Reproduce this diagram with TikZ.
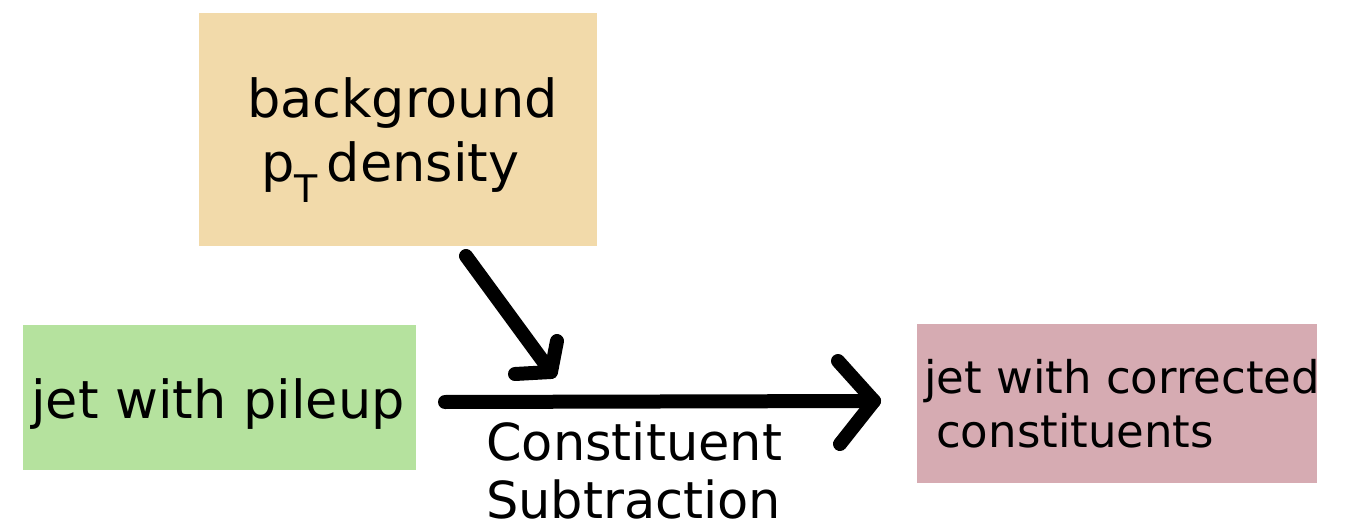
\documentclass[tikz,border=0pt]{standalone}
\usepackage{fontspec}
\setmainfont{DejaVu Sans}
\definecolor{bgorange}{RGB}{242,218,170}
\definecolor{pilegreen}{RGB}{181,226,158}
\definecolor{corrpink}{RGB}{214,171,178}
\begin{document}
\begin{tikzpicture}[x=1pt,y=-1pt,
  box/.style={inner sep=0pt, outer sep=0pt, anchor=north west, draw=none},
  lbl/.style={inner sep=0pt, anchor=base west, font=\fontsize{52.5}{62}\selectfont},
  small/.style={lbl, font=\fontsize{45}{54}\selectfont},
  mid/.style={lbl, font=\fontsize{51}{58}\selectfont},
  flow/.style={line width=14pt, line cap=round, line join=round}]
\useasboundingbox (0,0) rectangle (1353,524);

% coloured boxes
\node[box, fill=bgorange, minimum width=398pt, minimum height=233pt] (bg) at (199,13) {};
\node[box, fill=pilegreen, minimum width=393pt, minimum height=145pt] (pile) at (23,325) {};
\node[box, fill=corrpink, minimum width=400pt, minimum height=159pt] (corr) at (917,324) {};

% box texts
\node[lbl] (bgline1) at (247,118) {background};
\node[lbl] (bgline2) at (261,182) {p\raisebox{-21pt}{\fontsize{38}{38}\selectfont T}\hspace{9pt}density};
\node[lbl] (piletext) at (31,418) {jet with pileup};
\node[small] (corrline1) at (924,393) {jet with corrected};
\node[small] (corrline2) at (936,447) {constituents};

% step label under the main arrow
\node[mid] (step1) at (486,460) {Constituent};
\node[mid] (step2) at (486,518) {Subtraction};

% main arrow: pileup jet -> corrected jet
\coordinate (hstart) at (445,402);
\coordinate (htip) at (874,401);
\coordinate (hup) at (838,361);
\coordinate (hlow) at (840,444);
\draw[flow] (hstart) -- (htip);
\draw[flow] (hup) -- (htip) -- (hlow);

% density arrow feeding into the subtraction
\coordinate (dstart) at (466,256);
\coordinate (dtip) at (551,372);
\coordinate (dleft) at (515,374);
\coordinate (dup) at (557,341);
\draw[flow] (dstart) -- (dtip);
\draw[flow] (dleft) -- (dtip) -- (dup);
\end{tikzpicture}
\end{document}
